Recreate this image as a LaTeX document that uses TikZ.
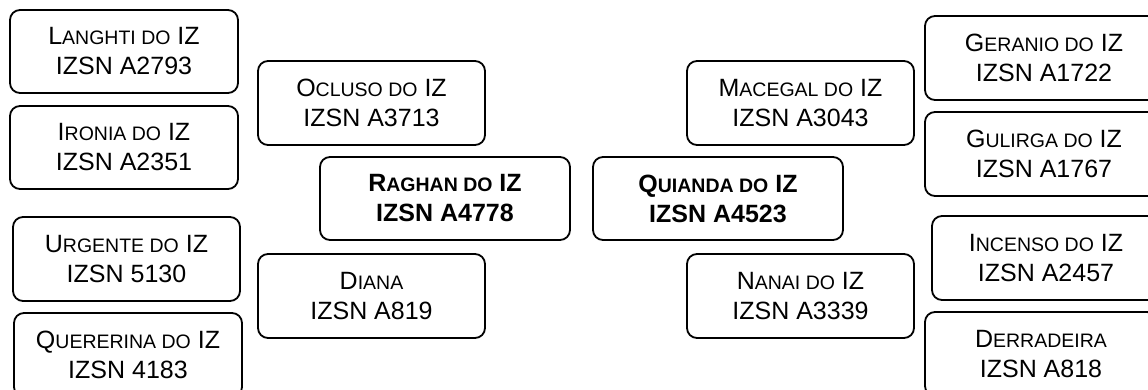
\documentclass[tikz,border=0pt]{standalone}
\usepackage{fontspec}
\setmainfont{Liberation Sans}
\newcommand\smc[1]{{\fontsize{19.5}{30}\selectfont #1}}
\tikzset{
  box/.style={draw=black, line width=1.8pt, rounded corners=10pt, align=center,
    inner sep=0pt, font=\fontsize{25}{30}\selectfont, fill=white},
  bbox/.style={box, font=\fontsize{25}{30}\selectfont\bfseries}
}
\begin{document}
\begin{tikzpicture}[x=1pt,y=-1pt]
\useasboundingbox (0,0) rectangle (1148,389);
\clip (0,0) rectangle (1148,389);
\fill[white] (0,0) rectangle (1148,389);
% left column
\node[box, minimum width=228pt, minimum height=83pt] (langhti) at (124,51.5) {L\smc{ANGHTI DO} IZ\\IZSN A2793};
\node[box, minimum width=228pt, minimum height=83pt] (ironia) at (124,147.5) {I\smc{RONIA DO} IZ\\IZSN A2351};
\node[box, minimum width=227pt, minimum height=84pt] (urgente) at (126.5,259) {U\smc{RGENTE DO} IZ\\IZSN 5130};
\node[box, minimum width=228pt, minimum height=84pt] (quererina) at (128,355) {Q\smc{UERERINA DO} IZ\\IZSN 4183};
% inner left
\node[box, minimum width=227pt, minimum height=84pt] (ocluso) at (371.5,103) {O\smc{CLUSO DO} IZ\\IZSN A3713};
\node[box, minimum width=227pt, minimum height=84pt] (diana) at (371.5,296) {D\smc{IANA}\\IZSN A819};
% centre
\node[bbox, minimum width=250pt, minimum height=83pt] (raghan) at (445,198.5) {R\smc{AGHAN DO} IZ\\IZSN A4778};
\node[bbox, minimum width=250pt, minimum height=83pt] (quianda) at (718,198.5) {Q\smc{UIANDA DO} IZ\\IZSN A4523};
% inner right
\node[box, minimum width=227pt, minimum height=84pt] (macegal) at (800.5,103) {M\smc{ACEGAL DO} IZ\\IZSN A3043};
\node[box, minimum width=227pt, minimum height=84pt] (nanai) at (800.5,296) {N\smc{ANAI DO} IZ\\IZSN A3339};
% right column
\node[box, minimum width=238pt, minimum height=84pt] (geranio) at (1044,58) {G\smc{ERANIO DO} IZ\\IZSN A1722};
\node[box, minimum width=238pt, minimum height=84pt] (gulirga) at (1044,154) {G\smc{ULIRGA DO} IZ\\IZSN A1767};
\node[box, minimum width=228pt, minimum height=84pt] (incenso) at (1046,258) {I\smc{NCENSO DO} IZ\\IZSN A2457};
\node[box, minimum width=232pt, minimum height=84pt] (derradeira) at (1041,354) {D\smc{ERRADEIRA}\\IZSN A818};
\end{tikzpicture}
\end{document}
